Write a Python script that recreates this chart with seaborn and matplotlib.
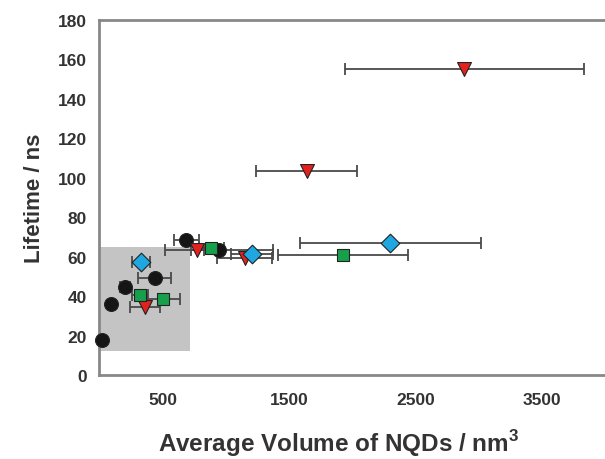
import pandas as pd
import matplotlib.pyplot as plt
import matplotlib.patches as mpatches
import seaborn as sns

# values
circle_x = [24, 90, 205, 440, 690, 947]
circle_y = [17.5, 36, 44.5, 49, 68.5, 63.5]
circle_err = [0, 0, 40, 130, 100, 430]

diamond_x = [332, 1208, 2303]
diamond_y = [57, 61.5, 67]
diamond_err = [70, 165, 715]

square_x = [321, 505, 887, 1926]
square_y = [40.5, 38.5, 64.5, 61]
square_err = [65, 130, 100, 513]

tri_x = [363, 777, 1150, 1642, 2887]
tri_y = [34.5, 63.5, 59, 103.5, 155]
tri_err = [120, 50, 220, 400, 947]

x_ticks = [500, 1500, 2500, 3500]
y_ticks = list(range(0, 181, 20))

sns.set_theme(style="white")
plt.rcParams['font.family'] = ['Liberation Sans', 'DejaVu Sans']
plt.rcParams['mathtext.fontset'] = 'custom'
plt.rcParams['mathtext.bf'] = 'Liberation Sans:bold'
plt.rcParams['mathtext.rm'] = 'Liberation Sans:bold'

series = [
    ("circle", circle_x, circle_y, circle_err, "o", "#151515", 10),
    ("tri", tri_x, tri_y, tri_err, "v", "#e3221e", 10),
    ("square", square_x, square_y, square_err, "s", "#16a04c", 9),
    ("diamond", diamond_x, diamond_y, diamond_err, "D", "#1fa7e1", 9.5),
]

rows = []
for name, xs, ys, es, m, c, s in series:
    for x, y, e in zip(xs, ys, es):
        rows.append({"set": name, "vol": x, "life": y, "err": e})
df = pd.DataFrame(rows)

fig = plt.figure(figsize=(6.05, 4.6), dpi=100)
ax = fig.add_axes([0.164, 0.1826, 0.836, 0.7728])

ax.add_patch(mpatches.Rectangle((0, 12), 720, 53, facecolor="#c4c4c4",
                                edgecolor="none", zorder=0))

for name, xs, ys, es, m, c, s in series:
    sub = df[df["set"] == name]
    ax.errorbar(sub["vol"], sub["life"], xerr=sub["err"], fmt="none",
                ecolor="#4a4a4a", elinewidth=1.3, capsize=4, capthick=1.3,
                zorder=2)
    sns.scatterplot(data=sub, x="vol", y="life", marker=m, color=c,
                    s=s ** 2, edgecolor="#222222", linewidth=0.8, ax=ax,
                    zorder=3, clip_on=False)

ax.set_xlim(0, 4000)
ax.set_ylim(0, 180)
ax.set_xticks(x_ticks)
ax.set_yticks(y_ticks)
ax.tick_params(axis="both", direction="out", length=4, width=1.2,
               color="#777777", labelsize=12.5, labelcolor="#333333", pad=5)
ax.tick_params(axis="x", pad=8)
for lab in ax.get_xticklabels() + ax.get_yticklabels():
    lab.set_fontweight("bold")

for side in ["left", "bottom", "top"]:
    ax.spines[side].set_color("#888888")
    ax.spines[side].set_linewidth(2)
ax.spines["right"].set_visible(False)

ax.set_xlabel(r"Average Volume of NQDs / nm$^\mathbf{3}$", fontsize=17.5,
              fontweight="bold", color="#333333", labelpad=15)
ax.xaxis.label.set_x(0.473)
ax.set_ylabel("Lifetime / ns", fontsize=16, fontweight="bold",
              color="#333333", labelpad=9)

fig.savefig("out.png", dpi=100)
